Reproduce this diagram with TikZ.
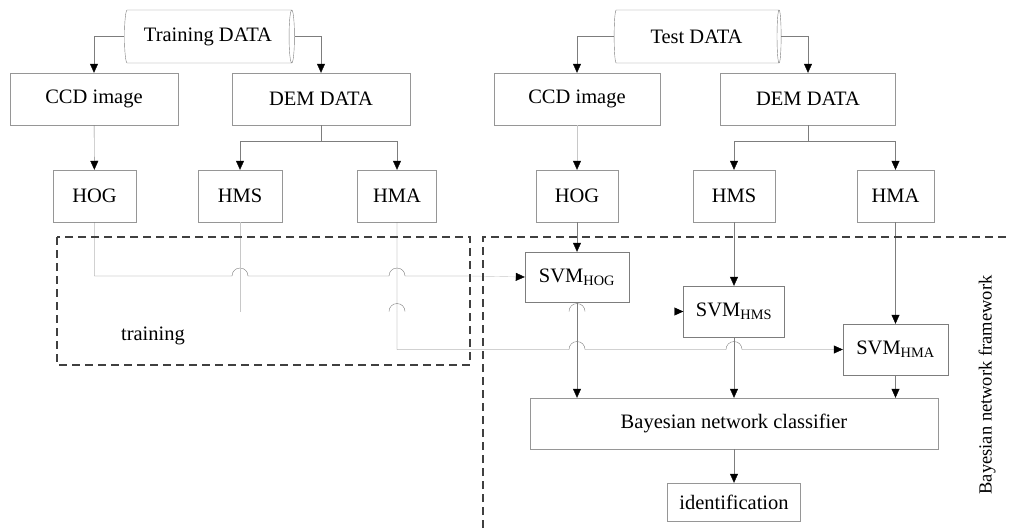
\documentclass[tikz,border=0pt]{standalone}
\usepackage{fontspec}
\setmainfont{Liberation Serif}
\usetikzlibrary{shapes.geometric,arrows.meta}
\definecolor{linegray}{RGB}{125,125,125}
\definecolor{boxgray}{RGB}{150,150,150}
\definecolor{lightline}{RGB}{200,200,200}
\definecolor{faintline}{RGB}{255,255,255}

\tikzset{
  box/.style={draw=boxgray,rectangle,minimum height=52pt,inner sep=0pt},
  svmbox/.style={draw=linegray,rectangle,minimum height=51pt,inner sep=0pt},
  store/.style={draw=linegray,cylinder,aspect=0.3,minimum width=53pt,inner sep=0pt},
  flow/.style={draw=linegray,-{Triangle[length=9pt,width=8pt,color=black]}},
  link/.style={draw=linegray},
  region/.style={draw=black!75,dash pattern=on 8pt off 5pt,line width=1.2pt}
}
\newcommand{\svm}[1]{SVM\textsubscript{#1}}

\begin{document}
\begin{tikzpicture}[x=1pt,y=-1pt,font=\fontsize{20.5}{24}\selectfont]
  \useasboundingbox (0,0) rectangle (1011,528);

  % training side
  \node[store,minimum height=170pt] (tdata) at (208,36.5) {Training DATA};
  \node[box,minimum width=168pt] (lccd) at (94,99) {CCD image};
  \node[box,minimum width=178pt] (ldem) at (321,99) {DEM DATA};
  \node[box,minimum width=83pt] (lhog) at (94.5,196) {HOG};
  \node[box,minimum width=84pt] (lhms) at (240,196) {HMS};
  \node[box,minimum width=79pt] (lhma) at (397,196) {HMA};

  % test side
  \node[store,minimum height=167pt] (edata) at (696.5,36.5) {Test DATA};
  \node[box,minimum width=166pt] (rccd) at (577,99) {CCD image};
  \node[box,minimum width=175pt] (rdem) at (808,99) {DEM DATA};
  \node[box,minimum width=82pt] (rhog) at (577,196) {HOG};
  \node[box,minimum width=82pt] (rhms) at (734,196) {HMS};
  \node[box,minimum width=77pt] (rhma) at (895.5,196) {HMA};

  \node[svmbox,minimum width=104pt,minimum height=50pt] (svmhog) at (577,277) {\svm{HOG}};
  \node[svmbox,minimum width=101pt] (svmhms) at (734,311.5) {\svm{HMS}};
  \node[svmbox,minimum width=105pt] (svmhma) at (895.5,349.5) {\svm{HMA}};
  \node[box,minimum width=408pt,minimum height=51pt] (bayes) at (734,423.5) {Bayesian network classifier};
  \node[box,minimum width=133pt,minimum height=38pt] (ident) at (734,502) {identification};

  \node (trainlbl) at (153,336) {training};
  \node[rotate=90,font=\fontsize{18.5}{22}\selectfont] (framelbl) at (987,385) {Bayesian network framework};

  % data to sources
  \draw[flow] (tdata.west) -| (lccd.north);
  \draw[flow] (tdata.east) -| (ldem.north);
  \draw[flow] (edata.west) -| (rccd.north);
  \draw[flow] (edata.east) -| (rdem.north);
  \draw[flow] (lccd) -- (lhog);
  \draw[flow,draw=lightline] (rccd) -- (rhog);

  \coordinate (lsplit) at (321,141);
  \coordinate (rsplit) at (808,141);
  \draw[link] (ldem.south) -- (lsplit);
  \draw[flow] (lsplit) -| (lhms.north);
  \draw[flow] (lsplit) -| (lhma.north);
  \draw[link] (rdem.south) -- (rsplit);
  \draw[flow] (rsplit) -| (rhms.north);
  \draw[flow] (rsplit) -| (rhma.north);

  % features to classifiers
  \draw[flow] (rhog) -- (svmhog);
  \draw[flow] (rhms) -- (svmhms);
  \draw[flow] (rhma) -- (svmhma);

  \coordinate (hogturn) at (94.5,276);
  \coordinate (hmsturn) at (240,311.5);
  \coordinate (hmaturn) at (397,349.5);
  \draw[flow,draw=faintline] (hmsturn) -- (svmhms.west);
  \draw[link] (lhog.south) -- (hogturn) -- (232,276) arc[start angle=180,end angle=360,radius=8]
    -- (389,276) arc[start angle=180,end angle=360,radius=8] -- (470,276);
  \draw[flow,draw=lightline] (470,276) -- (svmhog.west);
  \draw[link,draw=lightline] (lhms.south) -- (hmsturn);
  \draw[link] (389,311.5) arc[start angle=180,end angle=360,radius=8];
  \draw[link] (569,311.5) arc[start angle=180,end angle=360,radius=8];
  \draw[flow] (lhma.south) -- (hmaturn) -- (569,349.5) arc[start angle=180,end angle=360,radius=8]
    -- (726,349.5) arc[start angle=180,end angle=360,radius=8] -- (svmhma.west);

  % classifiers to bayes
  \draw[flow] (svmhog.south) -- (bayes.north -| svmhog.south);
  \draw[flow] (svmhms) -- (bayes.north -| svmhms.south);
  \draw[flow] (svmhma) -- (bayes.north -| svmhma.south);
  \draw[flow] (bayes) -- (ident);

  % dashed regions
  \draw[region] (57,237) rectangle (470,365);
  \draw[region] (483,528) -- (483,237) -- (1011,237);
\end{tikzpicture}
\end{document}
